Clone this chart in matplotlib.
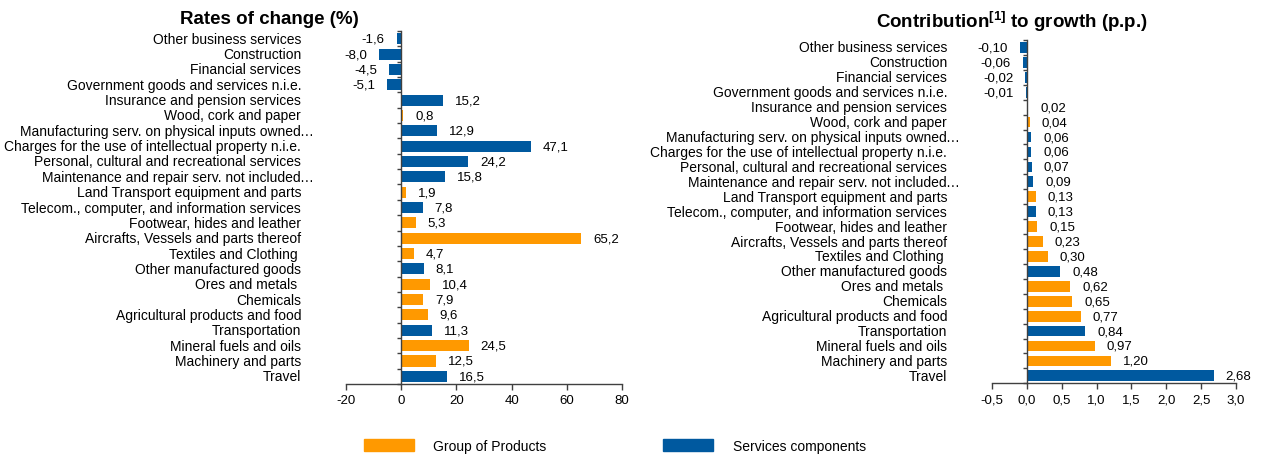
import matplotlib
matplotlib.use("Agg")
import matplotlib.pyplot as plt
from matplotlib.patches import Patch
from matplotlib.ticker import FuncFormatter

plt.rcParams["font.family"] = ["Liberation Sans", "DejaVu Sans"]
plt.rcParams["axes.unicode_minus"] = False
plt.rcParams["mathtext.fontset"] = "custom"
plt.rcParams["mathtext.rm"] = "Liberation Sans"
plt.rcParams["mathtext.bf"] = "Liberation Sans:bold"

categories = [
    "Other business services",
    "Construction",
    "Financial services",
    "Government goods and services n.i.e.",
    "Insurance and pension services",
    "Wood, cork and paper",
    "Manufacturing serv. on physical inputs owned\u2026",
    "Charges for the use of intellectual property n.i.e.",
    "Personal, cultural and recreational services",
    "Maintenance and repair serv. not included\u2026",
    "Land Transport equipment and parts",
    "Telecom., computer, and information services",
    "Footwear, hides and leather",
    "Aircrafts, Vessels and parts thereof",
    "Textiles and Clothing ",
    "Other manufactured goods",
    "Ores and metals ",
    "Chemicals",
    "Agricultural products and food",
    "Transportation",
    "Mineral fuels and oils",
    "Machinery and parts",
    "Travel",
]
# G = group of products, S = services components
kind = ["S", "S", "S", "S", "S", "G", "S", "S", "S", "S", "G", "S",
        "G", "G", "G", "S", "G", "G", "G", "S", "G", "G", "S"]

rates = [-1.6, -8.0, -4.5, -5.1, 15.2, 0.8, 12.9, 47.1, 24.2, 15.8, 1.9, 7.8,
         5.3, 65.2, 4.7, 8.1, 10.4, 7.9, 9.6, 11.3, 24.5, 12.5, 16.5]
contrib = [-0.10, -0.06, -0.02, -0.01, 0.02, 0.04, 0.06, 0.06, 0.07, 0.09, 0.13, 0.13,
           0.15, 0.23, 0.30, 0.48, 0.62, 0.65, 0.77, 0.84, 0.97, 1.20, 2.68]

ORANGE = "#FF9900"
BLUE = "#00599F"
colors = [ORANGE if k == "G" else BLUE for k in kind]
n = len(categories)
ypos = list(range(n))

fig = plt.figure(figsize=(12.61, 4.56), dpi=100)
ax1 = fig.add_axes([0.2744, 0.1557, 0.2189, 0.7741])
ax2 = fig.add_axes([0.7867, 0.1572, 0.1935, 0.7529])


def draw_panel(ax, values, xlim, xticks, decimals, fmt_ticks):
    ax.barh(ypos, values, height=0.72, color=colors, zorder=2)
    ax.set_ylim(n - 0.5, -0.5)
    ax.set_xlim(*xlim)
    ax.set_xticks(xticks)
    ax.xaxis.set_major_formatter(FuncFormatter(fmt_ticks))
    ax.tick_params(axis="x", labelsize=9.5, length=4, width=1, color="#404040", pad=3)

    for s in ["top", "right"]:
        ax.spines[s].set_visible(False)
    ax.spines["left"].set_position(("data", 0))
    for s in ["left", "bottom"]:
        ax.spines[s].set_color("#404040")
        ax.spines[s].set_linewidth(1)

    # tick marks between categories, labels drawn separately
    ax.set_yticks([i - 0.5 for i in range(n + 1)])
    ax.set_yticklabels([])
    ax.tick_params(axis="y", length=3, width=1, color="#404040")

    for i, lab in enumerate(categories):
        # truncated labels: the ellipsis hangs past the right edge
        if lab.endswith("\u2026"):
            ax.annotate(lab[:-1], xy=(0, i), xycoords=("axes fraction", "data"),
                        xytext=(-32.4, 0), textcoords="offset points",
                        ha="right", va="center", fontsize=10)
            ax.annotate("\u2026", xy=(0, i), xycoords=("axes fraction", "data"),
                        xytext=(-33.6, 0), textcoords="offset points",
                        ha="left", va="center", fontsize=10)
        else:
            ax.annotate(lab, xy=(0, i), xycoords=("axes fraction", "data"),
                        xytext=(-32.4, 0), textcoords="offset points",
                        ha="right", va="center", fontsize=10)

    for i, v in enumerate(values):
        txt = f"{v:.{decimals}f}".replace(".", ",")
        off = 8.6 if v >= 0 else -8.6
        ax.annotate(txt, xy=(v, i), xytext=(off, 0), textcoords="offset points",
                    ha="left" if v >= 0 else "right", va="center", fontsize=9.5)


draw_panel(ax1, rates, (-20, 80), [-20, 0, 20, 40, 60, 80], 1,
           lambda x, p: f"{x:.0f}")
draw_panel(ax2, contrib, (-0.5, 3.0), [-0.5, 0, 0.5, 1.0, 1.5, 2.0, 2.5, 3.0], 2,
           lambda x, p: f"{x:.1f}".replace(".", ","))

fig.text(269.5 / 1261, 1 - 19.5 / 456, "Rates of change (%)", ha="center", va="center",
         fontsize=13.5, fontweight="bold")
fig.text(1012 / 1261, 1 - 22 / 456, r"Contribution$^{\mathbf{[1]}}$ to growth (p.p.)",
         ha="center", va="center", fontsize=13.5, fontweight="bold")

handles = [Patch(color=ORANGE, label="Group of Products"),
           Patch(color=BLUE, label="Services components")]
fig.legend(handles=handles, loc="center", bbox_to_anchor=(615 / 1261, 1 - 447 / 456),
           ncol=2, frameon=False, fontsize=10, handlelength=3.6, handleheight=1.0,
           handletextpad=1.4, columnspacing=8.4)

fig.savefig("out.png", dpi=100)
